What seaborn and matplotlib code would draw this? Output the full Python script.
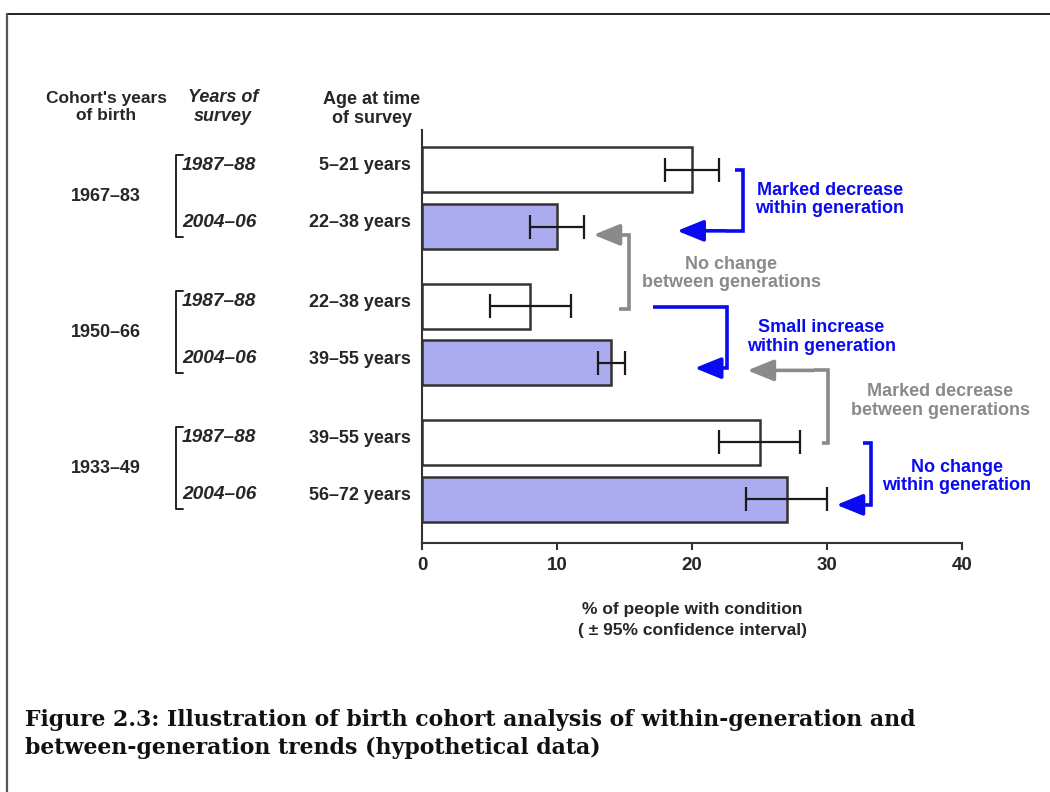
import numpy as np
import pandas as pd
import matplotlib
matplotlib.use("Agg")
import matplotlib.pyplot as plt
import matplotlib.transforms as mtransforms
from matplotlib.lines import Line2D
import seaborn as sns

# ---- data -------------------------------------------------------------
cohorts = ["1967–83", "1950–66", "1933–49"]
surveys = ["1987–88", "2004–06"]
ages = ["5–21 years", "22–38 years",
        "22–38 years", "39–55 years",
        "39–55 years", "56–72 years"]
prevalence = [20, 10, 8, 14, 25, 27]       # % of people with condition
ci_half = [2, 2, 3, 1, 3, 3]               # half-width of 95% CI
x_ticks = [0, 10, 20, 30, 40]

# ---- style ------------------------------------------------------------
sns.set_theme(style="ticks")
plt.rcParams["font.family"] = ["Liberation Sans", "DejaVu Sans"]
plt.rcParams["font.weight"] = "bold"

BLUE = "#0a0af0"
GREY = "#8a8a8a"
EDGE = "#333333"
FILL = {"1987–88": "white", "2004–06": "#a0a0fa"}
FS = 13

# bar rows: two surveys per cohort, wider gap between cohorts
cohort_step = 2.39
rows = []
k = 0
for ci, cohort in enumerate(cohorts):
    for si, survey in enumerate(surveys):
        rows.append(dict(cohort=cohort, survey=survey, age=ages[k],
                         pos=ci * cohort_step + si,
                         value=prevalence[k], ci=ci_half[k]))
        k += 1
df = pd.DataFrame(rows)

W, H = 1050, 792
fig = plt.figure(figsize=(W / 100, H / 100), dpi=100)
ax = fig.add_axes([422 / W, 1 - 543 / H, 540 / W, 413 / H])

sns.barplot(data=df, x="value", y="pos", hue="survey", palette=FILL,
            orient="h", native_scale=True, dodge=False, width=0.79,
            edgecolor=EDGE, linewidth=1.8, errorbar=None, legend=False, ax=ax)
ax.errorbar(df["value"], df["pos"], xerr=df["ci"], fmt="none",
            ecolor="#1a1a1a", elinewidth=1.6, capsize=8.5, capthick=1.6)

ax.set_xlim(0, 40)
ax.set_ylim(6.55, -0.70)
ax.set_xticks(x_ticks)
ax.set_xticklabels([str(t) for t in x_ticks], fontsize=13.5, fontweight="bold")
ax.set_yticks([])
ax.set_ylabel("")
sns.despine(ax=ax)
for side in ("left", "bottom"):
    ax.spines[side].set_color(EDGE)
    ax.spines[side].set_linewidth(1.5)
ax.tick_params(axis="x", direction="out", length=5, width=1.5,
               color=EDGE, pad=5)
ax.set_xlabel("% of people with condition\n( ± 95% confidence interval)",
              fontsize=12.5, fontweight="bold", labelpad=20, linespacing=1.55)

# ---- row labels on the left -------------------------------------------
def fx(px):
    return px / W

def fy(py):
    return 1 - py / H

blend = mtransforms.blended_transform_factory(fig.transFigure, ax.transData)

fig.text(fx(106), fy(107), "Cohort's years\nof birth", ha="center", va="center",
         fontsize=12.5, fontweight="bold", linespacing=1.15)
fig.text(fx(223), fy(107), "Years of\nsurvey", ha="center", va="center",
         fontsize=13, fontweight="bold", style="italic", linespacing=1.15)
fig.text(fx(372), fy(109), "Age at time\nof survey", ha="center", va="center",
         fontsize=13, fontweight="bold", linespacing=1.2)

for ci, cohort in enumerate(cohorts):
    sub = df[df["cohort"] == cohort]
    p0, p1 = sub["pos"].min(), sub["pos"].max()
    ax.text(fx(106), (p0 + p1) / 2 - 0.03, cohort, transform=blend, ha="center",
            va="center", fontsize=FS, fontweight="bold")
    # bracket grouping the two surveys
    bx = [fx(183), fx(175.5), fx(175.5), fx(183)]
    by = [p0 - 0.26, p0 - 0.26, p1 + 0.18, p1 + 0.18]
    fig.add_artist(Line2D(bx, by, transform=blend, color="#222222", lw=1.4))

for _, r in df.iterrows():
    ax.text(fx(182), r["pos"] - 0.08, r["survey"], transform=blend, ha="left",
            va="center", fontsize=13.8, fontweight="bold", style="italic")
    ax.text(fx(411), r["pos"] - 0.07, r["age"], transform=blend, ha="right",
            va="center", fontsize=FS, fontweight="bold")

# ---- trend brackets with arrows ---------------------------------------
def bracket(points, color):
    xs = [p[0] for p in points[:-1]]
    ys = [p[1] for p in points[:-1]]
    ax.plot(xs, ys, color=color, lw=2.6, solid_joinstyle="miter",
            solid_capstyle="butt", clip_on=False)
    ax.annotate("", xy=points[-1], xytext=points[-2],
                arrowprops=dict(arrowstyle="-|>,head_length=1.6,head_width=0.65",
                                mutation_scale=10, color=color, lw=2.6,
                                shrinkA=0, shrinkB=0),
                annotation_clip=False)

bracket([(23.2, 0.0), (23.75, 0.0), (23.75, 1.07), (22.5, 1.07), (18.9, 1.07)], BLUE)
bracket([(14.6, 2.44), (15.3, 2.44), (15.3, 1.14), (14.5, 1.14), (12.7, 1.14)], GREY)
bracket([(17.1, 2.40), (22.6, 2.40), (22.6, 3.48), (21.5, 3.48), (20.2, 3.48)], BLUE)
bracket([(29.6, 4.80), (30.1, 4.80), (30.1, 3.52), (29.0, 3.52), (24.1, 3.52)], GREY)
bracket([(32.7, 4.80), (33.25, 4.80), (33.25, 5.88), (32.3, 5.88), (30.7, 5.88)], BLUE)

notes = [
    (30.2, 0.52, "Marked decrease\nwithin generation", BLUE),
    (22.9, 1.82, "No change\nbetween generations", GREY),
    (29.6, 2.93, "Small increase\nwithin generation", BLUE),
    (38.4, 4.06, "Marked decrease\nbetween generations", GREY),
    (39.6, 5.38, "No change\nwithin generation", BLUE),
]
for x, y, s, c in notes:
    ax.text(x, y, s, ha="center", va="center", color=c, fontsize=FS,
            fontweight="bold", linespacing=1.12, clip_on=False)

# ---- caption ----------------------------------------------------------
fig.text(fx(25), fy(734),
         "Figure 2.3: Illustration of birth cohort analysis of within-generation and\n"
         "between-generation trends (hypothetical data)",
         ha="left", va="center", fontsize=15.8, fontweight="bold",
         family=["DejaVu Serif"], linespacing=1.32, color="#111111")

# page frame (top and left edges)
fig.add_artist(Line2D([fx(7), 1.0], [fy(14), fy(14)], transform=fig.transFigure,
                      color="#111111", lw=1.3))
fig.add_artist(Line2D([fx(7), fx(7)], [fy(14), 0.0], transform=fig.transFigure,
                      color="#555555", lw=1.6))

fig.savefig("out.png", dpi=100, facecolor="white")
